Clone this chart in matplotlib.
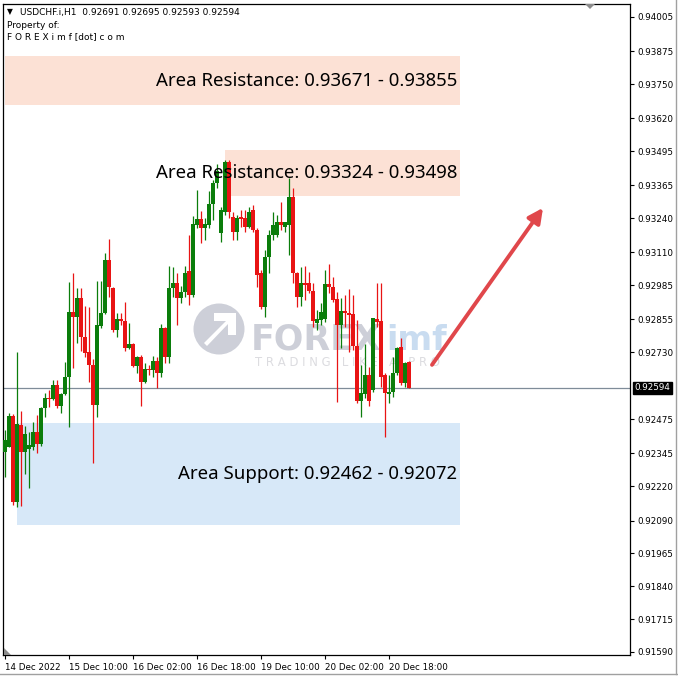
import matplotlib
matplotlib.use("Agg")
import matplotlib.pyplot as plt
from matplotlib.patches import Rectangle, Circle, FancyArrowPatch, Polygon

# ---------------- data (USDCHF.i, H1) ----------------
opens = [0.92351, 0.92370, 0.92488, 0.92160, 0.92453, 0.92351, 0.92362, 0.92370, 0.92427, 0.92381,
         0.92518, 0.92556, 0.92552, 0.92605, 0.92526, 0.92571, 0.92636, 0.92883, 0.92864, 0.92936,
         0.92788, 0.92731, 0.92681, 0.92529, 0.92830, 0.92879, 0.93081, 0.92974, 0.92815, 0.92856,
         0.92849, 0.92746, 0.92761, 0.92678, 0.92712, 0.92617, 0.92666, 0.92662, 0.92697, 0.92651,
         0.92822, 0.92712, 0.92974, 0.92993, 0.92936, 0.92959, 0.93039, 0.92948, 0.93214, 0.93237,
         0.93203, 0.93214, 0.93294, 0.93374, 0.93184, 0.93263, 0.93454, 0.93244, 0.93187, 0.93244,
         0.93241, 0.93206, 0.93271, 0.93195, 0.93031, 0.92902, 0.93092, 0.93176, 0.93176, 0.93225,
         0.93206, 0.93214, 0.93320, 0.93031, 0.92940, 0.92993, 0.92993, 0.92963, 0.92841, 0.92853,
         0.92856, 0.92990, 0.92978, 0.92932, 0.92834, 0.92887, 0.92879, 0.92875, 0.92754, 0.92545,
         0.92571, 0.92643, 0.92586, 0.92856, 0.92849, 0.92643, 0.92571, 0.92579, 0.92651, 0.92750,
         0.92613, 0.92691]
highs = [0.92434, 0.92499, 0.92495, 0.92731, 0.92506, 0.92449, 0.92427, 0.92465, 0.92491, 0.92522,
         0.92575, 0.92586, 0.92624, 0.92624, 0.92575, 0.92693, 0.92997, 0.93031, 0.92974, 0.92974,
         0.92906, 0.92902, 0.92704, 0.93001, 0.93001, 0.93107, 0.93161, 0.92978, 0.92879, 0.92879,
         0.92921, 0.92841, 0.92765, 0.92716, 0.92720, 0.92689, 0.92681, 0.92716, 0.92712, 0.92837,
         0.92826, 0.93058, 0.93054, 0.93031, 0.92982, 0.93058, 0.93176, 0.93248, 0.93347, 0.93267,
         0.93241, 0.93343, 0.93385, 0.93446, 0.93282, 0.93461, 0.93461, 0.93263, 0.93252, 0.93271,
         0.93271, 0.93282, 0.93290, 0.93203, 0.93043, 0.93119, 0.93195, 0.93263, 0.93252, 0.93301,
         0.93225, 0.93393, 0.93355, 0.93035, 0.93054, 0.93058, 0.93035, 0.92993, 0.92891, 0.92917,
         0.93043, 0.93066, 0.93016, 0.92959, 0.92936, 0.92948, 0.92971, 0.92948, 0.92853, 0.92681,
         0.92761, 0.92674, 0.92860, 0.92993, 0.92993, 0.92651, 0.92643, 0.92712, 0.92750, 0.92784,
         0.92693, 0.92695]
lows = [0.92256, 0.92370, 0.92149, 0.92141, 0.92145, 0.92267, 0.92214, 0.92358, 0.92347, 0.92373,
        0.92484, 0.92522, 0.92548, 0.92518, 0.92499, 0.92567, 0.92446, 0.92670, 0.92765, 0.92735,
        0.92712, 0.92617, 0.92309, 0.92484, 0.92822, 0.92875, 0.92940, 0.92807, 0.92788, 0.92834,
        0.92735, 0.92742, 0.92674, 0.92651, 0.92526, 0.92613, 0.92643, 0.92636, 0.92594, 0.92636,
        0.92689, 0.92689, 0.92940, 0.92834, 0.92917, 0.92940, 0.92910, 0.92940, 0.93203, 0.93145,
        0.93157, 0.93203, 0.93233, 0.93355, 0.93149, 0.93252, 0.93241, 0.93157, 0.93157, 0.93206,
        0.93187, 0.93203, 0.93187, 0.92978, 0.92894, 0.92864, 0.93031, 0.93157, 0.93168, 0.93195,
        0.93187, 0.93100, 0.92993, 0.92902, 0.92906, 0.92929, 0.92955, 0.92826, 0.92815, 0.92834,
        0.92845, 0.92955, 0.92921, 0.92541, 0.92746, 0.92826, 0.92731, 0.92739, 0.92537, 0.92484,
        0.92556, 0.92526, 0.92579, 0.92826, 0.92598, 0.92408, 0.92537, 0.92560, 0.92643, 0.92605,
        0.92598, 0.92593]
closes = [0.92396, 0.92488, 0.92160, 0.92457, 0.92351, 0.92419, 0.92377, 0.92427, 0.92381, 0.92518,
          0.92556, 0.92552, 0.92605, 0.92526, 0.92571, 0.92636, 0.92883, 0.92864, 0.92936, 0.92788,
          0.92727, 0.92681, 0.92529, 0.92834, 0.92879, 0.93081, 0.92978, 0.92815, 0.92856, 0.92849,
          0.92746, 0.92761, 0.92678, 0.92712, 0.92617, 0.92666, 0.92662, 0.92697, 0.92651, 0.92822,
          0.92712, 0.92974, 0.92993, 0.92936, 0.92959, 0.93031, 0.92948, 0.93218, 0.93237, 0.93203,
          0.93218, 0.93294, 0.93374, 0.93419, 0.93271, 0.93454, 0.93263, 0.93187, 0.93241, 0.93237,
          0.93206, 0.93263, 0.93195, 0.93024, 0.92902, 0.93092, 0.93176, 0.93214, 0.93225, 0.93214,
          0.93225, 0.93320, 0.93031, 0.92940, 0.92993, 0.92986, 0.92963, 0.92849, 0.92856, 0.92883,
          0.92990, 0.92978, 0.92929, 0.92834, 0.92887, 0.92879, 0.92872, 0.92754, 0.92545, 0.92575,
          0.92643, 0.92545, 0.92860, 0.92845, 0.92636, 0.92575, 0.92579, 0.92651, 0.92746, 0.92613,
          0.92689, 0.92594]

time_tick_bars = [0, 16, 32, 48, 64, 80, 96]
time_tick_labels = ["14 Dec 2022", "15 Dec 10:00", "16 Dec 02:00", "16 Dec 18:00",
                    "19 Dec 10:00", "20 Dec 02:00", "20 Dec 18:00"]
price_ticks = [0.94005, 0.93875, 0.93750, 0.93620, 0.93495, 0.93365, 0.93240, 0.93110,
               0.92985, 0.92855, 0.92730, 0.92475, 0.92345, 0.92220, 0.92090, 0.91965,
               0.91840, 0.91715, 0.91590]
current_price = 0.92594

zone_labels = ["Area Resistance: 0.93671 - 0.93855",
               "Area Resistance: 0.93324 - 0.93498",
               "Area Support: 0.92462 - 0.92072"]
zone_low = [0.93671, 0.93324, 0.92072]
zone_high = [0.93855, 0.93498, 0.92462]
zone_start_bar = [0, 55, 3]
zone_end_bar = [113.75, 113.75, 113.75]
zone_colors = ["#FCE1D5", "#FCE1D5", "#D7E8F8"]

arrow_bars = [106.75, 134.5]
arrow_prices = [0.92682, 0.93279]

header_line = "USDCHF.i,H1  0.92691 0.92695 0.92593 0.92594"

# ---------------- figure ----------------
W = H = 678
fig = plt.figure(figsize=(6.78, 6.78), dpi=100, facecolor="white")
def fx(px): return px / W
def fy(py): return 1 - py / H

ax_left, ax_right, ax_top, ax_bot = 3, 630, 4, 655
ax = fig.add_axes([fx(ax_left), fy(ax_bot), fx(ax_right - ax_left), (ax_bot - ax_top) / H])

n = len(closes)
ax.set_xlim(-0.5, (ax_right - 5) / 4.0)
ax.set_ylim(0.915785, 0.940544)

# zones
for lo, hi, x0, x1, col, lab in zip(zone_low, zone_high, zone_start_bar, zone_end_bar, zone_colors, zone_labels):
    ax.add_patch(Rectangle((x0, lo), x1 - x0, hi - lo, facecolor=col, edgecolor="none", zorder=0.3))
    ax.text(x1 - 0.75, (lo + hi) / 2, lab, ha="right", va="center", fontsize=13.4,
            family="Noto Sans", color="black", zorder=5)

# watermark (drawn under the candles)
wm = "#CDCFD8"
fig.patches.append(Rectangle((fx(ax_left), fy(ax_bot)), fx(ax_right - ax_left), (ax_bot - ax_top) / H,
                             transform=fig.transFigure, facecolor="white", edgecolor="none", zorder=0.1))
fig.patches.append(Circle((fx(219), fy(329)), 25.5 / W, transform=fig.transFigure,
                          facecolor=wm, edgecolor="none", zorder=0.6))
fig.patches.append(Polygon([(fx(204), fy(343)), (fx(226), fy(321)), (fx(214), fy(321)),
                            (fx(214), fy(313)), (fx(236), fy(313)), (fx(236), fy(335)),
                            (fx(228), fy(335)), (fx(228), fy(324)), (fx(207), fy(346))],
                           closed=True, transform=fig.transFigure, facecolor="white",
                           edgecolor="none", zorder=0.65))
fig.text(fx(251), fy(350), "FOREX", fontsize=25, fontweight="bold", family="DejaVu Sans",
         color=wm, ha="left", va="baseline", zorder=0.6)
fig.text(fx(386), fy(350), "imf", fontsize=24, fontweight="bold", family="DejaVu Sans",
         color="#C9DCF0", ha="left", va="baseline", zorder=0.6)
fig.text(fx(347), fy(362), "T R A D I N G   L I K E   A   P R O", fontsize=8.4,
         family="DejaVu Sans", color="#DCDCE0", ha="center", va="center", zorder=0.6)

ax.set_zorder(1)
ax.patch.set_alpha(0)

# current price line
ax.axhline(current_price, color="#7F8C99", lw=0.9, zorder=1)

# candles
green, red = "#0B7D0B", "#E81414"
for i, (o, h, l, c) in enumerate(zip(opens, highs, lows, closes)):
    col = green if c >= o else red
    ax.vlines(i, l, h, color=col, lw=0.9, zorder=2)
    body = max(abs(c - o), 0.000025)
    ax.bar(i, body, bottom=min(o, c), width=0.76, color=col, edgecolor="none", zorder=3)

# arrow
ax.add_patch(FancyArrowPatch((arrow_bars[0], arrow_prices[0]), (arrow_bars[1], arrow_prices[1]),
                             arrowstyle="-|>", mutation_scale=22, lw=2.8, color="#E0474B",
                             shrinkA=0, shrinkB=0, zorder=6))

# axes styling
for s in ["left", "right", "top", "bottom"]:
    ax.spines[s].set_color("black")
    ax.spines[s].set_linewidth(0.9)
ax.yaxis.tick_right()
ax.set_yticks(price_ticks)
ax.set_yticklabels([f"{p:.5f}" for p in price_ticks])
ax.tick_params(axis="y", direction="out", length=3, width=0.8, pad=2, labelsize=6.3,
               colors="black")
ax.set_xticks(time_tick_bars)
ax.set_xticklabels([])
ax.tick_params(axis="x", direction="out", length=3, width=0.8)
for b, lab in zip(time_tick_bars, time_tick_labels):
    ax.annotate(lab, xy=(b, 0), xycoords=("data", "axes fraction"), xytext=(0, -5.5),
                textcoords="offset points", ha="left", va="top", fontsize=6.3,
                family="DejaVu Sans", annotation_clip=False)

# current price label
ax.annotate(f"{current_price:.5f}", xy=(1, current_price), xycoords=("axes fraction", "data"),
            xytext=(3.2, 0), textcoords="offset points", ha="left", va="center", fontsize=6.3,
            color="white", annotation_clip=False,
            bbox=dict(boxstyle="square,pad=0.2", facecolor="black", edgecolor="black"))

# header
fig.text(fx(7), fy(12), "\u25BC", fontsize=5.5, ha="left", va="center", color="black")
fig.text(fx(20), fy(12), header_line, fontsize=6.5, ha="left", va="center", color="black")
fig.text(fx(7), fy(25), "Property of:", fontsize=6.5, ha="left", va="center", color="black")
fig.text(fx(7), fy(37), "F O R E X i m f [dot] c o m", fontsize=6.5, ha="left", va="center",
         color="black")

# small gray triangles
fig.patches.append(Polygon([(fx(585), fy(4)), (fx(595), fy(4)), (fx(590), fy(9))], closed=True,
                           transform=fig.transFigure, facecolor="#8C8C8C", edgecolor="none", zorder=5))
fig.patches.append(Polygon([(fx(4), fy(648)), (fx(4), fy(655)), (fx(11), fy(655))], closed=True,
                           transform=fig.transFigure, facecolor="#8C8C8C", edgecolor="none", zorder=5))

# window border lines
fig.add_artist(plt.Line2D([0, 1], [fy(674), fy(674)], transform=fig.transFigure, color="#A0A0A0", lw=1))
fig.add_artist(plt.Line2D([fx(676), fx(676)], [fy(0), fy(674)], transform=fig.transFigure, color="#A0A0A0", lw=1))

fig.savefig("out.png", dpi=100, facecolor="white")
